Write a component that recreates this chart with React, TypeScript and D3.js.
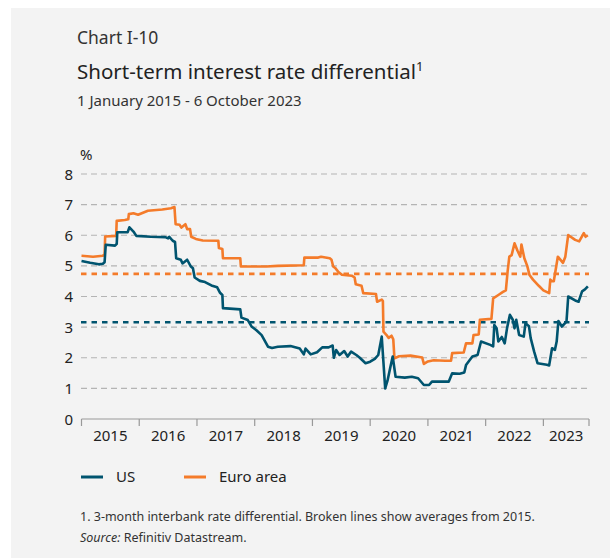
import React, { useEffect, useRef } from "react";
import * as d3 from "d3";

// decimal years, values in percentage points
const usDates = [
  2015.0, 2015.15, 2015.3, 2015.37, 2015.4, 2015.42, 2015.58, 2015.61, 2015.62, 2015.8,
  2015.83, 2015.9, 2015.95, 2016.2, 2016.45, 2016.5, 2016.52, 2016.58, 2016.62, 2016.64,
  2016.72, 2016.75, 2016.83, 2016.89, 2016.93, 2016.96, 2017.05, 2017.14, 2017.25, 2017.35,
  2017.4, 2017.44, 2017.45, 2017.75, 2017.77, 2017.88, 2017.95, 2018.03, 2018.12, 2018.23,
  2018.3, 2018.4, 2018.62, 2018.78, 2018.85, 2018.88, 2018.97, 2019.08, 2019.17, 2019.28,
  2019.35, 2019.37, 2019.41, 2019.47, 2019.55, 2019.61, 2019.67, 2019.76, 2019.82, 2019.92,
  2020.0, 2020.08, 2020.14, 2020.2, 2020.26, 2020.3, 2020.35, 2020.39, 2020.44, 2020.6,
  2020.72, 2020.83, 2020.93, 2021.02, 2021.07, 2021.25, 2021.36, 2021.42, 2021.55, 2021.63,
  2021.66, 2021.77, 2021.86, 2021.92, 2022.08, 2022.13, 2022.15, 2022.19, 2022.22, 2022.28,
  2022.33, 2022.37, 2022.42, 2022.47, 2022.5, 2022.53, 2022.58, 2022.66, 2022.69, 2022.75,
  2022.78, 2022.84, 2022.9, 2023.06, 2023.1, 2023.15, 2023.2, 2023.23, 2023.26, 2023.32,
  2023.4, 2023.43, 2023.55, 2023.61, 2023.67, 2023.72, 2023.77,
];
const usValues = [
  5.16, 5.1, 5.05, 5.07, 5.12, 5.69, 5.66, 5.72, 6.1, 6.1,
  6.26, 6.12, 5.98, 5.95, 5.94, 5.9, 5.95, 5.82, 5.78, 5.25,
  5.2, 5.08, 5.2, 4.99, 4.92, 4.62, 4.51, 4.47, 4.36, 4.3,
  4.12, 4.05, 3.62, 3.58, 3.31, 3.23, 3.01, 2.9, 2.74, 2.36,
  2.32, 2.36, 2.38, 2.3, 2.11, 2.3, 2.11, 2.18, 2.34, 2.34,
  2.4, 2.0, 2.25, 2.09, 2.22, 2.04, 2.2, 2.09, 2.0, 1.82,
  1.87, 1.96, 2.09, 2.69, 1.0, 1.25, 1.7, 2.04, 1.38, 1.35,
  1.38, 1.33, 1.11, 1.11, 1.22, 1.22, 1.22, 1.49, 1.48, 1.52,
  1.76, 2.04, 2.09, 2.53, 2.42, 2.37, 3.07, 2.96, 2.53, 2.68,
  2.47, 2.96, 3.4, 3.24, 2.96, 3.24, 2.74, 2.69, 3.13, 3.03,
  2.64, 2.2, 1.82, 1.77, 1.75, 2.31, 2.26, 2.53, 3.2, 3.02,
  3.18, 4.0, 3.87, 3.83, 4.17, 4.23, 4.33,
];

const euroDates = [
  2015.0, 2015.2, 2015.37, 2015.4, 2015.41, 2015.6, 2015.61, 2015.75, 2015.81, 2015.82,
  2015.9, 2015.98, 2016.15, 2016.4, 2016.55, 2016.61, 2016.63, 2016.7, 2016.73, 2016.8,
  2016.83, 2016.88, 2016.9, 2016.98, 2017.1, 2017.37, 2017.38, 2017.44, 2017.45, 2017.75,
  2017.76, 2018.2, 2018.4, 2018.85, 2018.86, 2019.1, 2019.15, 2019.3, 2019.33, 2019.36,
  2019.4, 2019.45, 2019.51, 2019.68, 2019.73, 2019.75, 2019.85, 2019.88, 2020.1, 2020.12,
  2020.2, 2020.22, 2020.23, 2020.28, 2020.32, 2020.37, 2020.4, 2020.42, 2020.5, 2020.7,
  2020.9, 2020.93, 2021.0, 2021.1, 2021.3, 2021.4, 2021.42, 2021.62, 2021.66, 2021.77,
  2021.79, 2021.88, 2021.9, 2022.1, 2022.13, 2022.22, 2022.3, 2022.35, 2022.38, 2022.41,
  2022.45, 2022.5, 2022.55, 2022.6, 2022.62, 2022.67, 2022.72, 2022.76, 2022.82, 2022.92,
  2023.0, 2023.1, 2023.12, 2023.15, 2023.18, 2023.25, 2023.34, 2023.38, 2023.43, 2023.55,
  2023.62, 2023.7, 2023.73, 2023.77,
];
const euroValues = [
  5.33, 5.3, 5.33, 5.38, 5.96, 5.98, 6.47, 6.5, 6.52, 6.69,
  6.72, 6.67, 6.8, 6.84, 6.88, 6.92, 6.36, 6.34, 6.25, 6.36,
  6.2, 6.2, 5.95, 5.88, 5.83, 5.82, 5.58, 5.55, 5.25, 5.25,
  4.98, 4.98, 5.0, 5.02, 5.27, 5.27, 5.3, 5.25, 5.2, 4.98,
  4.92, 4.8, 4.71, 4.68, 4.62, 4.4, 4.35, 4.11, 4.08, 3.83,
  3.9, 3.85, 2.85, 2.75, 2.65, 2.72, 2.6, 1.98, 2.05, 2.07,
  2.01, 1.8, 1.88, 1.92, 1.9, 1.9, 2.15, 2.17, 2.47, 2.47,
  2.74, 2.76, 3.24, 3.27, 3.94, 4.05, 4.15, 4.2, 4.81, 5.3,
  5.35, 5.74, 5.5, 5.3, 5.7, 5.25, 5.0, 4.7, 4.55, 4.35,
  4.2, 4.11, 4.55, 4.5, 4.5, 5.3, 5.1, 5.3, 6.01, 5.85,
  5.8, 6.07, 5.95, 6.0,
];

const usAverage = 3.16;
const euroAverage = 4.74;

const yTicks = [0, 1, 2, 3, 4, 5, 6, 7, 8];
const yearTicks = [2015, 2016, 2017, 2018, 2019, 2020, 2021, 2022, 2023];

const usColor = "#00546f";
const euroColor = "#f47b2a";
const font = "'Noto Sans', sans-serif";

function App() {
  const ref = useRef<SVGSVGElement>(null);

  useEffect(() => {
    const svg = d3.select(ref.current);
    svg.selectAll("*").remove();

    svg.append("rect")
      .attr("x", 11).attr("y", 8).attr("width", 599).attr("height", 550)
      .attr("fill", "#f3f3f3");

    const x = d3.scaleLinear().domain([2015, 2023.79]).range([81.5, 589]);
    const y = d3.scaleLinear().domain([0, 8]).range([419, 174]);

    // titles
    svg.append("text").attr("x", 77).attr("y", 44)
      .attr("font-size", 17.5).attr("fill", "#333").text("Chart I-10");
    const t = svg.append("text").attr("x", 77).attr("y", 79)
      .attr("font-size", 20.5).attr("fill", "#222");
    t.append("tspan").text("Short-term interest rate differential");
    t.append("tspan").attr("font-size", 13).attr("dy", -8).text("1");
    svg.append("text").attr("x", 77).attr("y", 106)
      .attr("font-size", 15).attr("fill", "#333").text("1 January 2015 - 6 October 2023");

    // gridlines
    svg.append("g").selectAll("line")
      .data(yTicks.filter((d) => d > 0))
      .join("line")
      .attr("x1", 81).attr("x2", 589)
      .attr("y1", (d) => y(d)).attr("y2", (d) => y(d))
      .attr("stroke", "#b4b4b4").attr("stroke-width", 1.2)
      .attr("stroke-dasharray", "6,4");

    svg.append("g").selectAll("text")
      .data(yTicks)
      .join("text")
      .attr("x", 73).attr("y", (d) => y(d) + 5.5)
      .attr("text-anchor", "end").attr("font-size", 15).attr("fill", "#222")
      .text((d) => d);
    svg.append("text").attr("x", 80).attr("y", 160)
      .attr("font-size", 15).attr("fill", "#222").text("%");

    // x axis
    const axis = svg.append("g").attr("transform", `translate(0,${y(0)})`);
    axis.append("line").attr("x1", x(2015)).attr("x2", x.range()[1])
      .attr("stroke", "#999").attr("stroke-width", 1.2);
    axis.selectAll("line.tick")
      .data([...yearTicks, 2023.79])
      .join("line")
      .attr("class", "tick")
      .attr("x1", (d) => (d === 2023.79 ? x.range()[1] : x(d)))
      .attr("x2", (d) => (d === 2023.79 ? x.range()[1] : x(d)))
      .attr("y1", 0).attr("y2", 7)
      .attr("stroke", "#999").attr("stroke-width", 1.2);
    axis.selectAll("text")
      .data(yearTicks)
      .join("text")
      .attr("x", (d) => (d === 2023 ? (x(2023) + x.range()[1]) / 2 : x(d + 0.5)))
      .attr("y", 22)
      .attr("text-anchor", "middle").attr("font-size", 15).attr("fill", "#222")
      .text((d) => d);

    // average lines
    [
      { v: usAverage, c: usColor },
      { v: euroAverage, c: euroColor },
    ].forEach((a) => {
      svg.append("line")
        .attr("x1", 81).attr("x2", 589)
        .attr("y1", y(a.v)).attr("y2", y(a.v))
        .attr("stroke", a.c).attr("stroke-width", 2.6)
        .attr("stroke-dasharray", "5.5,5");
    });

    const line = d3.line<[number, number]>()
      .x((d) => x(d[0]))
      .y((d) => y(d[1]));

    const series = [
      { dates: euroDates, values: euroValues, c: euroColor },
      { dates: usDates, values: usValues, c: usColor },
    ];
    series.forEach((s) => {
      const pts = s.dates.map((d, i) => [d, s.values[i]] as [number, number]);
      svg.append("path")
        .attr("d", line(pts))
        .attr("fill", "none")
        .attr("stroke", s.c)
        .attr("stroke-width", 2.6)
        .attr("stroke-linejoin", "round");
    });

    // legend
    const legend = [
      { label: "US", c: usColor, x0: 81 },
      { label: "Euro area", c: euroColor, x0: 184 },
    ];
    legend.forEach((l) => {
      svg.append("line")
        .attr("x1", l.x0).attr("x2", l.x0 + 22)
        .attr("y1", 477).attr("y2", 477)
        .attr("stroke", l.c).attr("stroke-width", 3);
      svg.append("text").attr("x", l.x0 + 35).attr("y", 482)
        .attr("font-size", 15).attr("fill", "#222").text(l.label);
    });

    // notes
    svg.append("text").attr("x", 80).attr("y", 521)
      .attr("font-size", 12.5).attr("fill", "#333")
      .text("1. 3-month interbank rate differential. Broken lines show averages from 2015.");
    const src = svg.append("text").attr("x", 80).attr("y", 542)
      .attr("font-size", 12.5).attr("fill", "#333");
    src.append("tspan").attr("font-style", "italic").text("Source:");
    src.append("tspan").text(" Refinitiv Datastream.");
  }, []);

  return (
    <svg
      ref={ref}
      width={616}
      height={558}
      style={{ position: "absolute", left: 0, top: 0, fontFamily: font }}
    />
  );
}

export default App;
